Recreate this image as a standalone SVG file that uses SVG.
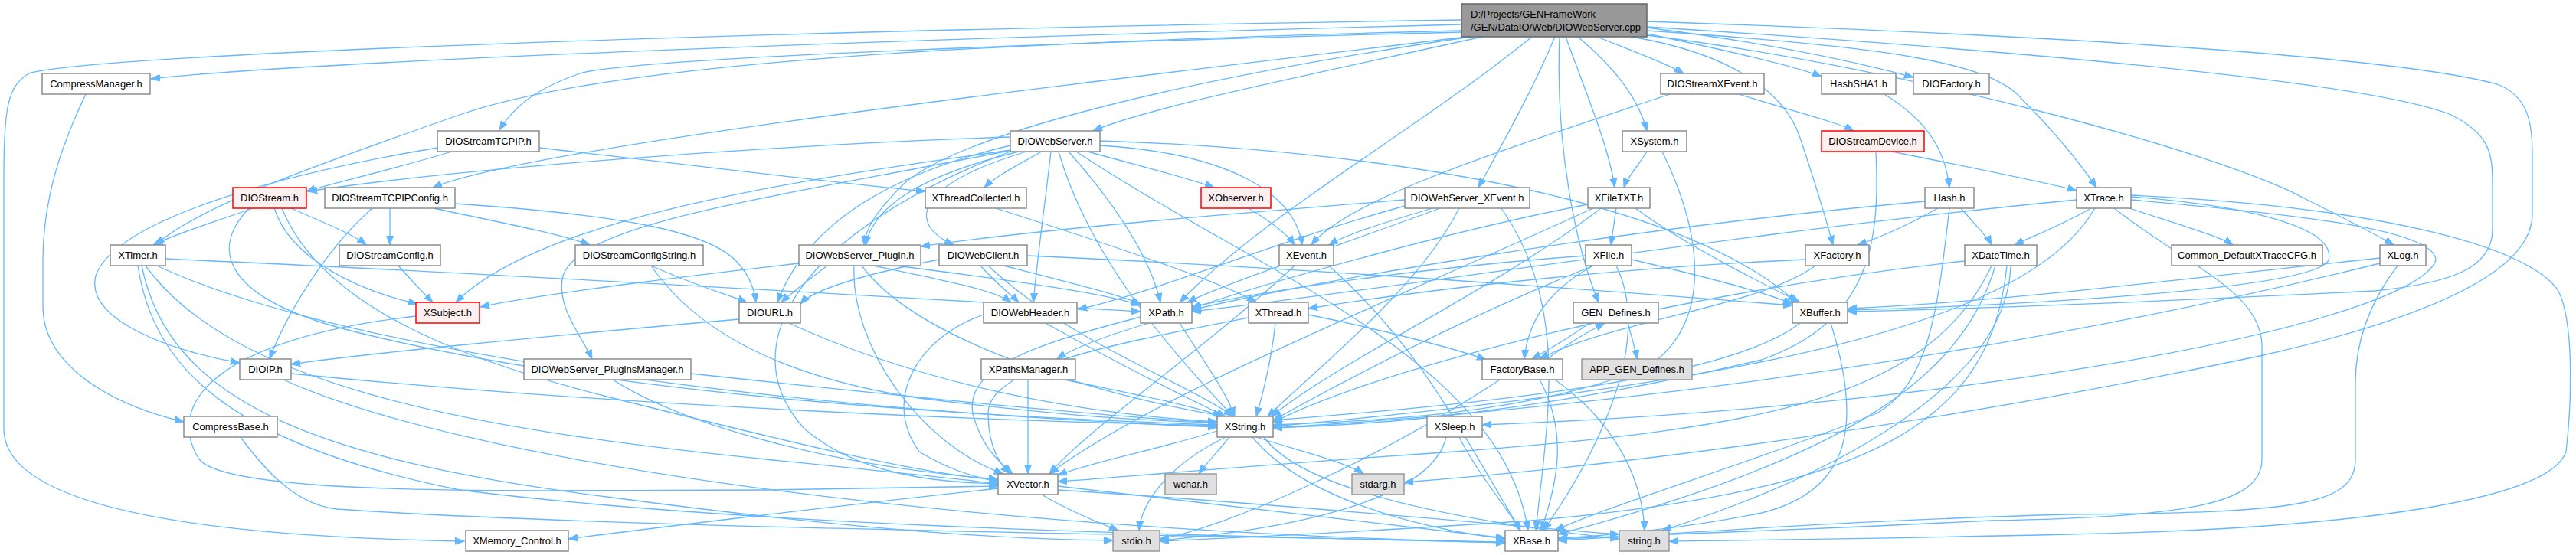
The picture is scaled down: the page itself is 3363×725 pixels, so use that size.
<svg xmlns="http://www.w3.org/2000/svg" width="3363" height="725" viewBox="0 0 3363 725">
<style>
.e{fill:none;stroke:#63b8ff;stroke-width:1.3;marker-end:url(#a)}
.n rect{fill:#ffffff;stroke:#8c8c8c;stroke-width:1.5}
.r rect{fill:#fff0f0;stroke:#ff0000;stroke-width:1.5}
.g rect{fill:#e0e0e0;stroke:#999999;stroke-width:1.5}
.t rect{fill:#999999;stroke:#666666;stroke-width:1.5}
text{font-family:"Liberation Sans",Arial,sans-serif;font-size:13px;fill:#000000;text-anchor:middle}
.t text{text-anchor:start}
</style>
<defs>
<marker id="a" markerWidth="13" markerHeight="10" refX="12" refY="5" orient="auto" markerUnits="userSpaceOnUse"><path d="M0,0.5 L12,5 L0,9.5 z" fill="#63b8ff" stroke="#63b8ff" stroke-width="1"/></marker>
</defs>
<rect width="3363" height="725" fill="#ffffff"/>
<g id="edges">
<path class="e" d="M1908,32 C1200,50 400,80 197,103"/>
<path class="e" d="M1908,26 C1000,40 150,70 40,95 C10,110 5,140 5,230 L5,560 C5,650 200,700 606,707"/>
<path class="e" d="M1908,42 C1400,55 850,75 760,95 C700,115 670,140 652,170"/>
<path class="e" d="M1915,48 C1400,110 700,190 565,245"/>
<path class="e" d="M1908,40 C1300,55 800,80 600,150 C400,220 260,270 203,320"/>
<path class="e" d="M1935,48 C1700,100 1500,140 1427,171"/>
<path class="e" d="M1920,48 C1500,110 1250,180 1180,240 C1140,280 1130,300 1128,320"/>
<path class="e" d="M2000,48 C1850,170 1650,280 1540,395"/>
<path class="e" d="M2030,48 C2000,120 1960,190 1930,245"/>
<path class="e" d="M2036,48 C2030,200 2060,330 2087,395"/>
<path class="e" d="M2044,48 C2070,120 2100,190 2108,245"/>
<path class="e" d="M2060,48 C2110,90 2140,130 2150,171"/>
<path class="e" d="M2085,48 C2140,70 2180,85 2198,96"/>
<path class="e" d="M2130,48 C2260,70 2330,120 2350,180 C2370,240 2385,290 2393,320"/>
<path class="e" d="M2150,44 C2250,65 2340,85 2378,100"/>
<path class="e" d="M2150,36 C2300,55 2420,80 2498,101"/>
<path class="e" d="M2150,40 C2450,60 2600,80 2640,130 C2690,180 2720,220 2737,245"/>
<path class="e" d="M2150,46 C2500,90 2900,200 3010,260 C3070,290 3100,305 3125,320"/>
<path class="e" d="M2150,35 C2700,70 3100,110 3200,150 C3250,175 3254,200 3254,240 L3254,300 C3254,350 3200,370 3100,380 C2800,395 2550,404 2412,407"/>
<path class="e" d="M2150,28 C2800,50 3150,80 3260,110 C3300,125 3306,160 3306,200 L3306,280 C3306,360 3150,420 2950,465 C2500,560 2100,610 1833,630"/>
<path class="e" d="M112,123 C80,190 56,260 56,340 L56,400 C56,480 150,530 240,551"/>
<path class="e" d="M314,571 C350,620 390,660 440,665 C800,690 1600,700 1965,708"/>
<path class="e" d="M590,198 C500,225 430,240 400,250"/>
<path class="e" d="M571,193 C350,230 150,290 125,360 C110,420 230,460 313,474"/>
<path class="e" d="M704,193 C900,215 1100,240 1208,250"/>
<path class="e" d="M1319,179 C1000,190 600,220 402,250"/>
<path class="e" d="M1360,198 C1330,215 1300,230 1285,245"/>
<path class="e" d="M1420,198 C1500,220 1560,235 1585,245"/>
<path class="e" d="M1436,190 C1600,200 1690,250 1700,320"/>
<path class="e" d="M1372,198 C1365,260 1355,330 1349,395"/>
<path class="e" d="M1395,198 C1450,260 1500,330 1515,395"/>
<path class="e" d="M1382,198 C1420,330 1520,450 1610,544"/>
<path class="e" d="M1436,184 C1800,195 2200,260 2345,395"/>
<path class="e" d="M1319,190 C1150,230 1050,300 1015,395"/>
<path class="e" d="M1320,196 C1000,240 700,290 595,395"/>
<path class="e" d="M1322,196 C1000,260 760,290 735,360 C725,400 760,440 773,469"/>
<path class="e" d="M1330,198 C1200,230 1140,270 1130,320"/>
<path class="e" d="M1340,198 C1200,240 1180,290 1245,320"/>
<path class="e" d="M1319,198 C1050,300 950,450 1050,560 C1120,620 1220,630 1303,632"/>
<path class="e" d="M1405,198 C1650,360 1960,470 1995,693"/>
<path class="e" d="M330,272 C280,290 230,305 200,320"/>
<path class="e" d="M380,272 C420,290 460,305 478,320"/>
<path class="e" d="M358,272 C380,340 470,380 545,397"/>
<path class="e" d="M325,272 C270,330 300,390 450,430 C800,520 1300,545 1589,555"/>
<path class="e" d="M368,272 C420,400 600,470 800,520 C1000,570 1200,620 1303,627"/>
<path class="e" d="M509,272 L509,320"/>
<path class="e" d="M566,272 C650,290 730,305 770,320"/>
<path class="e" d="M486,272 C420,330 370,420 352,469"/>
<path class="e" d="M594,266 C800,280 920,300 960,340 C980,360 985,380 987,395"/>
<path class="e" d="M520,347 C540,370 555,385 565,395"/>
<path class="e" d="M850,347 C900,370 950,385 975,395"/>
<path class="e" d="M850,347 C900,420 1000,490 1200,520 C1400,545 1500,550 1589,552"/>
<path class="e" d="M216,338 C700,360 1200,390 1489,407"/>
<path class="e" d="M205,347 C400,440 900,530 1589,558"/>
<path class="e" d="M190,347 C300,500 600,560 1000,600 C1150,615 1250,625 1303,632"/>
<path class="e" d="M180,347 C200,480 300,580 600,640 C1000,690 1600,700 1965,709"/>
<path class="e" d="M185,347 C220,520 400,600 800,650 C1100,690 1300,705 1453,706"/>
<path class="e" d="M1080,347 C1050,370 1030,385 1020,395"/>
<path class="e" d="M1140,347 C1250,370 1300,380 1320,395"/>
<path class="e" d="M1170,347 C1350,370 1450,385 1489,399"/>
<path class="e" d="M1043,344 C900,360 700,385 627,401"/>
<path class="e" d="M1125,347 C1200,450 1450,520 1600,544"/>
<path class="e" d="M1115,347 C1110,450 1200,580 1310,619"/>
<path class="e" d="M1226,339 C1120,360 1060,380 1045,397"/>
<path class="e" d="M1280,347 C1300,370 1320,385 1330,395"/>
<path class="e" d="M1310,347 C1400,370 1460,385 1489,397"/>
<path class="e" d="M1341,334 C1700,350 2100,380 2340,399"/>
<path class="e" d="M1290,347 C1400,450 1550,500 1610,544"/>
<path class="e" d="M1834,261 C1600,280 1350,300 1202,322"/>
<path class="e" d="M1870,272 C1810,290 1760,305 1735,320"/>
<path class="e" d="M1880,272 C1750,320 1600,370 1550,395"/>
<path class="e" d="M1905,272 C1850,380 1720,480 1655,544"/>
<path class="e" d="M1960,272 C2050,400 2020,550 2005,693"/>
<path class="e" d="M1834,269 C1650,320 1500,385 1407,404"/>
<path class="e" d="M2110,272 L2103,320"/>
<path class="e" d="M2073,267 C1900,300 1650,370 1556,403"/>
<path class="e" d="M2090,272 C1950,380 1750,470 1660,544"/>
<path class="e" d="M2135,272 C2200,320 2300,370 2350,395"/>
<path class="e" d="M2080,272 C1800,400 1500,520 1370,619"/>
<path class="e" d="M2070,334 C1850,350 1650,380 1556,401"/>
<path class="e" d="M2080,347 C1900,420 1750,500 1662,549"/>
<path class="e" d="M2130,339 C2220,360 2300,380 2340,397"/>
<path class="e" d="M2080,347 C2020,380 1995,420 1990,469"/>
<path class="e" d="M2110,347 C2160,450 2080,600 2015,693"/>
<path class="e" d="M2150,198 C2140,215 2125,230 2120,245"/>
<path class="e" d="M2170,198 C2220,300 2240,420 2150,480 C2000,540 1800,550 1662,555"/>
<path class="e" d="M2270,123 C2340,145 2400,160 2420,171"/>
<path class="e" d="M2180,123 C1950,200 1760,260 1712,320"/>
<path class="e" d="M2470,198 C2580,220 2680,240 2711,249"/>
<path class="e" d="M2449,198 C2455,320 2440,420 2300,470 C2000,540 1800,555 1662,559"/>
<path class="e" d="M2460,123 C2520,160 2540,200 2545,245"/>
<path class="e" d="M2530,272 C2480,300 2440,315 2425,320"/>
<path class="e" d="M2560,272 C2580,295 2595,310 2600,320"/>
<path class="e" d="M2513,263 C2100,300 1700,370 1556,405"/>
<path class="e" d="M2545,272 C2530,400 2520,500 2450,540 C2300,600 2100,660 2030,693"/>
<path class="e" d="M2730,272 C2690,295 2650,310 2630,320"/>
<path class="e" d="M2780,272 C2850,295 2900,310 2915,320"/>
<path class="e" d="M2782,257 C2950,270 3050,300 3040,340 C3020,380 2600,400 2412,405"/>
<path class="e" d="M2782,261 C3000,280 3180,300 3180,340 C3150,420 2600,530 1935,555"/>
<path class="e" d="M2782,255 C3100,270 3300,320 3340,380 C3360,420 3358,520 3350,590 C3330,650 3100,690 2700,698 C2450,704 2250,706 2179,707"/>
<path class="e" d="M2735,272 C2650,420 2300,500 1662,557"/>
<path class="e" d="M2760,272 C2860,350 2950,380 2953,450 L2953,600 C2953,660 2850,675 2600,680 C2400,690 2150,700 2034,704"/>
<path class="e" d="M2711,261 C2300,300 1800,380 1556,407"/>
<path class="e" d="M2565,341 C2200,380 1800,480 1662,552"/>
<path class="e" d="M2605,347 C2560,500 2400,600 2034,698"/>
<path class="e" d="M2600,347 C2520,520 2300,560 1900,590 C1600,610 1450,625 1381,629"/>
<path class="e" d="M2620,347 C2600,550 2450,640 2000,680 C1700,700 1550,705 1514,707"/>
<path class="e" d="M2625,347 C2620,500 2400,620 2170,693"/>
<path class="e" d="M3107,337 C2800,370 2600,395 2412,403"/>
<path class="e" d="M3107,344 C2800,420 2300,520 1662,559"/>
<path class="e" d="M3130,347 C3090,400 3075,450 3075,500 L3075,600 C3075,660 3000,670 2700,672 C2400,680 2150,700 2034,706"/>
<path class="e" d="M2357,339 C2100,350 1850,380 1708,403"/>
<path class="e" d="M2370,347 C2300,400 2100,420 2010,469"/>
<path class="e" d="M1665,422 C1660,470 1650,510 1640,544"/>
<path class="e" d="M1708,411 C1800,430 1900,455 1940,470"/>
<path class="e" d="M1630,415 C1450,450 1290,480 1290,540 C1290,590 1310,610 1318,619"/>
<path class="e" d="M1300,272 C1450,320 1600,370 1640,395"/>
<path class="e" d="M1630,272 C1660,290 1680,305 1690,320"/>
<path class="e" d="M1690,347 C1580,450 1420,560 1370,619"/>
<path class="e" d="M1735,347 C1850,450 1900,550 1985,693"/>
<path class="e" d="M1500,422 C1440,440 1400,455 1380,469"/>
<path class="e" d="M1540,422 C1570,470 1600,510 1612,544"/>
<path class="e" d="M1489,414 C1350,450 1260,480 1270,540 C1280,580 1300,600 1322,619"/>
<path class="e" d="M1342,496 L1342,619"/>
<path class="e" d="M1390,496 C1480,515 1560,530 1595,544"/>
<path class="e" d="M1365,422 C1450,470 1550,520 1600,544"/>
<path class="e" d="M1284,411 C1200,440 1150,520 1200,590 C1240,615 1280,625 1303,629"/>
<path class="e" d="M965,417 C700,440 450,465 380,476"/>
<path class="e" d="M1030,422 C1200,500 1400,540 1589,551"/>
<path class="e" d="M543,413 C300,440 210,520 260,600 C300,650 700,640 1000,640 C1150,638 1250,636 1303,635"/>
<path class="e" d="M380,488 C800,530 1300,550 1589,556"/>
<path class="e" d="M370,496 C600,600 1200,690 1965,709"/>
<path class="e" d="M902,488 C1200,520 1450,545 1589,552"/>
<path class="e" d="M800,496 C900,560 1100,610 1303,626"/>
<path class="e" d="M1589,563 C1500,590 1420,605 1381,621"/>
<path class="e" d="M1605,571 C1590,590 1575,605 1565,619"/>
<path class="e" d="M1640,571 C1700,590 1760,605 1780,619"/>
<path class="e" d="M1600,571 C1520,610 1490,660 1487,693"/>
<path class="e" d="M1635,571 C1700,650 1850,690 1965,704"/>
<path class="e" d="M1650,571 C1700,640 1900,680 2114,704"/>
<path class="e" d="M1303,638 C1100,660 850,690 742,704"/>
<path class="e" d="M1360,646 C1400,670 1440,685 1460,693"/>
<path class="e" d="M1381,635 C1600,660 1850,690 1965,703"/>
<path class="e" d="M1381,640 C1700,660 2000,690 2114,698"/>
<path class="e" d="M1905,571 C1930,620 1965,660 1985,693"/>
<path class="e" d="M1888,571 C1870,650 1700,690 1514,706"/>
<path class="e" d="M2020,469 C2045,450 2070,435 2095,422"/>
<path class="e" d="M2075,422 C2050,440 2025,455 2000,469"/>
<path class="e" d="M2010,496 C2050,570 2030,640 2012,693"/>
<path class="e" d="M2030,496 C2120,560 2145,640 2147,693"/>
<path class="e" d="M1958,496 C1800,600 1600,690 1514,704"/>
<path class="e" d="M2125,422 C2130,440 2135,455 2137,469"/>
<path class="e" d="M2350,422 C2250,500 1900,530 1662,549"/>
<path class="e" d="M2390,422 C2430,550 2420,640 2300,670 C2200,690 2100,700 2034,703"/>
</g>
<g id="node-top" class="t"><rect x="1908" y="5" width="242" height="43"/><text x="1920" y="23">D:/Projects/GENFrameWork</text><text x="1920" y="40">/GEN/DataIO/Web/DIOWebServer.cpp</text></g>
<g id="node-CompressManager" class="n"><rect x="55" y="96" width="141" height="27"/><text x="125.5" y="114">CompressManager.h</text></g>
<g id="node-DIOStreamXEvent" class="n"><rect x="2168" y="96" width="135" height="27"/><text x="2235.5" y="114">DIOStreamXEvent.h</text></g>
<g id="node-HashSHA1" class="n"><rect x="2378" y="96" width="97" height="27"/><text x="2426.5" y="114">HashSHA1.h</text></g>
<g id="node-DIOFactory" class="n"><rect x="2498" y="96" width="99" height="27"/><text x="2547.5" y="114">DIOFactory.h</text></g>
<g id="node-DIOStreamTCPIP" class="n"><rect x="571" y="171" width="133" height="27"/><text x="637.5" y="189">DIOStreamTCPIP.h</text></g>
<g id="node-DIOWebServer" class="n"><rect x="1319" y="171" width="117" height="27"/><text x="1377.5" y="189">DIOWebServer.h</text></g>
<g id="node-XSystem" class="n"><rect x="2118" y="171" width="84" height="27"/><text x="2160" y="189">XSystem.h</text></g>
<g id="node-DIOStreamDevice" class="r"><rect x="2378" y="171" width="134" height="27"/><text x="2445" y="189">DIOStreamDevice.h</text></g>
<g id="node-DIOStream" class="r"><rect x="304" y="245" width="96" height="27"/><text x="352" y="263">DIOStream.h</text></g>
<g id="node-DIOStreamTCPIPConfig" class="n"><rect x="424" y="245" width="170" height="27"/><text x="509" y="263">DIOStreamTCPIPConfig.h</text></g>
<g id="node-XThreadCollected" class="n"><rect x="1208" y="245" width="132" height="27"/><text x="1274" y="263">XThreadCollected.h</text></g>
<g id="node-XObserver" class="r"><rect x="1568" y="245" width="91" height="27"/><text x="1613.5" y="263">XObserver.h</text></g>
<g id="node-DIOWebServer_XEvent" class="n"><rect x="1834" y="245" width="163" height="27"/><text x="1915.5" y="263">DIOWebServer_XEvent.h</text></g>
<g id="node-XFileTXT" class="n"><rect x="2073" y="245" width="81" height="27"/><text x="2113.5" y="263">XFileTXT.h</text></g>
<g id="node-Hash" class="n"><rect x="2513" y="245" width="64" height="27"/><text x="2545" y="263">Hash.h</text></g>
<g id="node-XTrace" class="n"><rect x="2711" y="245" width="71" height="27"/><text x="2746.5" y="263">XTrace.h</text></g>
<g id="node-XTimer" class="n"><rect x="144" y="320" width="72" height="27"/><text x="180" y="338">XTimer.h</text></g>
<g id="node-DIOStreamConfig" class="n"><rect x="443" y="320" width="132" height="27"/><text x="509" y="338">DIOStreamConfig.h</text></g>
<g id="node-DIOStreamConfigString" class="n"><rect x="751" y="320" width="167" height="27"/><text x="834.5" y="338">DIOStreamConfigString.h</text></g>
<g id="node-DIOWebServer_Plugin" class="n"><rect x="1043" y="320" width="159" height="27"/><text x="1122.5" y="338">DIOWebServer_Plugin.h</text></g>
<g id="node-DIOWebClient" class="n"><rect x="1226" y="320" width="115" height="27"/><text x="1283.5" y="338">DIOWebClient.h</text></g>
<g id="node-XEvent" class="n"><rect x="1670" y="320" width="71" height="27"/><text x="1705.5" y="338">XEvent.h</text></g>
<g id="node-XFile" class="n"><rect x="2070" y="320" width="60" height="27"/><text x="2100" y="338">XFile.h</text></g>
<g id="node-XFactory" class="n"><rect x="2357" y="320" width="83" height="27"/><text x="2398.5" y="338">XFactory.h</text></g>
<g id="node-XDateTime" class="n"><rect x="2565" y="320" width="94" height="27"/><text x="2612" y="338">XDateTime.h</text></g>
<g id="node-Common_DefaultXTraceCFG" class="n"><rect x="2835" y="320" width="197" height="27"/><text x="2933.5" y="338">Common_DefaultXTraceCFG.h</text></g>
<g id="node-XLog" class="n"><rect x="3107" y="320" width="60" height="27"/><text x="3137" y="338">XLog.h</text></g>
<g id="node-XSubject" class="r"><rect x="543" y="395" width="83" height="27"/><text x="584.5" y="413">XSubject.h</text></g>
<g id="node-DIOURL" class="n"><rect x="965" y="395" width="80" height="27"/><text x="1005" y="413">DIOURL.h</text></g>
<g id="node-DIOWebHeader" class="n"><rect x="1284" y="395" width="122" height="27"/><text x="1345" y="413">DIOWebHeader.h</text></g>
<g id="node-XPath" class="n"><rect x="1489" y="395" width="67" height="27"/><text x="1522.5" y="413">XPath.h</text></g>
<g id="node-XThread" class="n"><rect x="1630" y="395" width="78" height="27"/><text x="1669" y="413">XThread.h</text></g>
<g id="node-GEN_Defines" class="n"><rect x="2054" y="395" width="111" height="27"/><text x="2109.5" y="413">GEN_Defines.h</text></g>
<g id="node-XBuffer" class="n"><rect x="2340" y="395" width="72" height="27"/><text x="2376" y="413">XBuffer.h</text></g>
<g id="node-DIOIP" class="n"><rect x="313" y="469" width="67" height="27"/><text x="346.5" y="487">DIOIP.h</text></g>
<g id="node-DIOWebServer_PluginsManager" class="n"><rect x="684" y="469" width="218" height="27"/><text x="793" y="487">DIOWebServer_PluginsManager.h</text></g>
<g id="node-XPathsManager" class="n"><rect x="1281" y="469" width="123" height="27"/><text x="1342.5" y="487">XPathsManager.h</text></g>
<g id="node-FactoryBase" class="n"><rect x="1935" y="469" width="105" height="27"/><text x="1987.5" y="487">FactoryBase.h</text></g>
<g id="node-APP_GEN_Defines" class="g"><rect x="2065" y="469" width="144" height="27"/><text x="2137" y="487">APP_GEN_Defines.h</text></g>
<g id="node-CompressBase" class="n"><rect x="240" y="544" width="122" height="27"/><text x="301" y="562">CompressBase.h</text></g>
<g id="node-XString" class="n"><rect x="1589" y="544" width="73" height="27"/><text x="1625.5" y="562">XString.h</text></g>
<g id="node-XSleep" class="n"><rect x="1863" y="544" width="72" height="27"/><text x="1899" y="562">XSleep.h</text></g>
<g id="node-XVector" class="n"><rect x="1303" y="619" width="78" height="27"/><text x="1342" y="637">XVector.h</text></g>
<g id="node-wchar" class="g"><rect x="1521" y="619" width="67" height="27"/><text x="1554.5" y="637">wchar.h</text></g>
<g id="node-stdarg" class="g"><rect x="1765" y="619" width="68" height="27"/><text x="1799" y="637">stdarg.h</text></g>
<g id="node-XMemory_Control" class="n"><rect x="608" y="693" width="134" height="27"/><text x="675" y="711">XMemory_Control.h</text></g>
<g id="node-stdio" class="g"><rect x="1453" y="693" width="61" height="27"/><text x="1483.5" y="711">stdio.h</text></g>
<g id="node-XBase" class="n"><rect x="1965" y="693" width="69" height="27"/><text x="1999.5" y="711">XBase.h</text></g>
<g id="node-string" class="g"><rect x="2114" y="693" width="65" height="27"/><text x="2146.5" y="711">string.h</text></g>
</svg>
